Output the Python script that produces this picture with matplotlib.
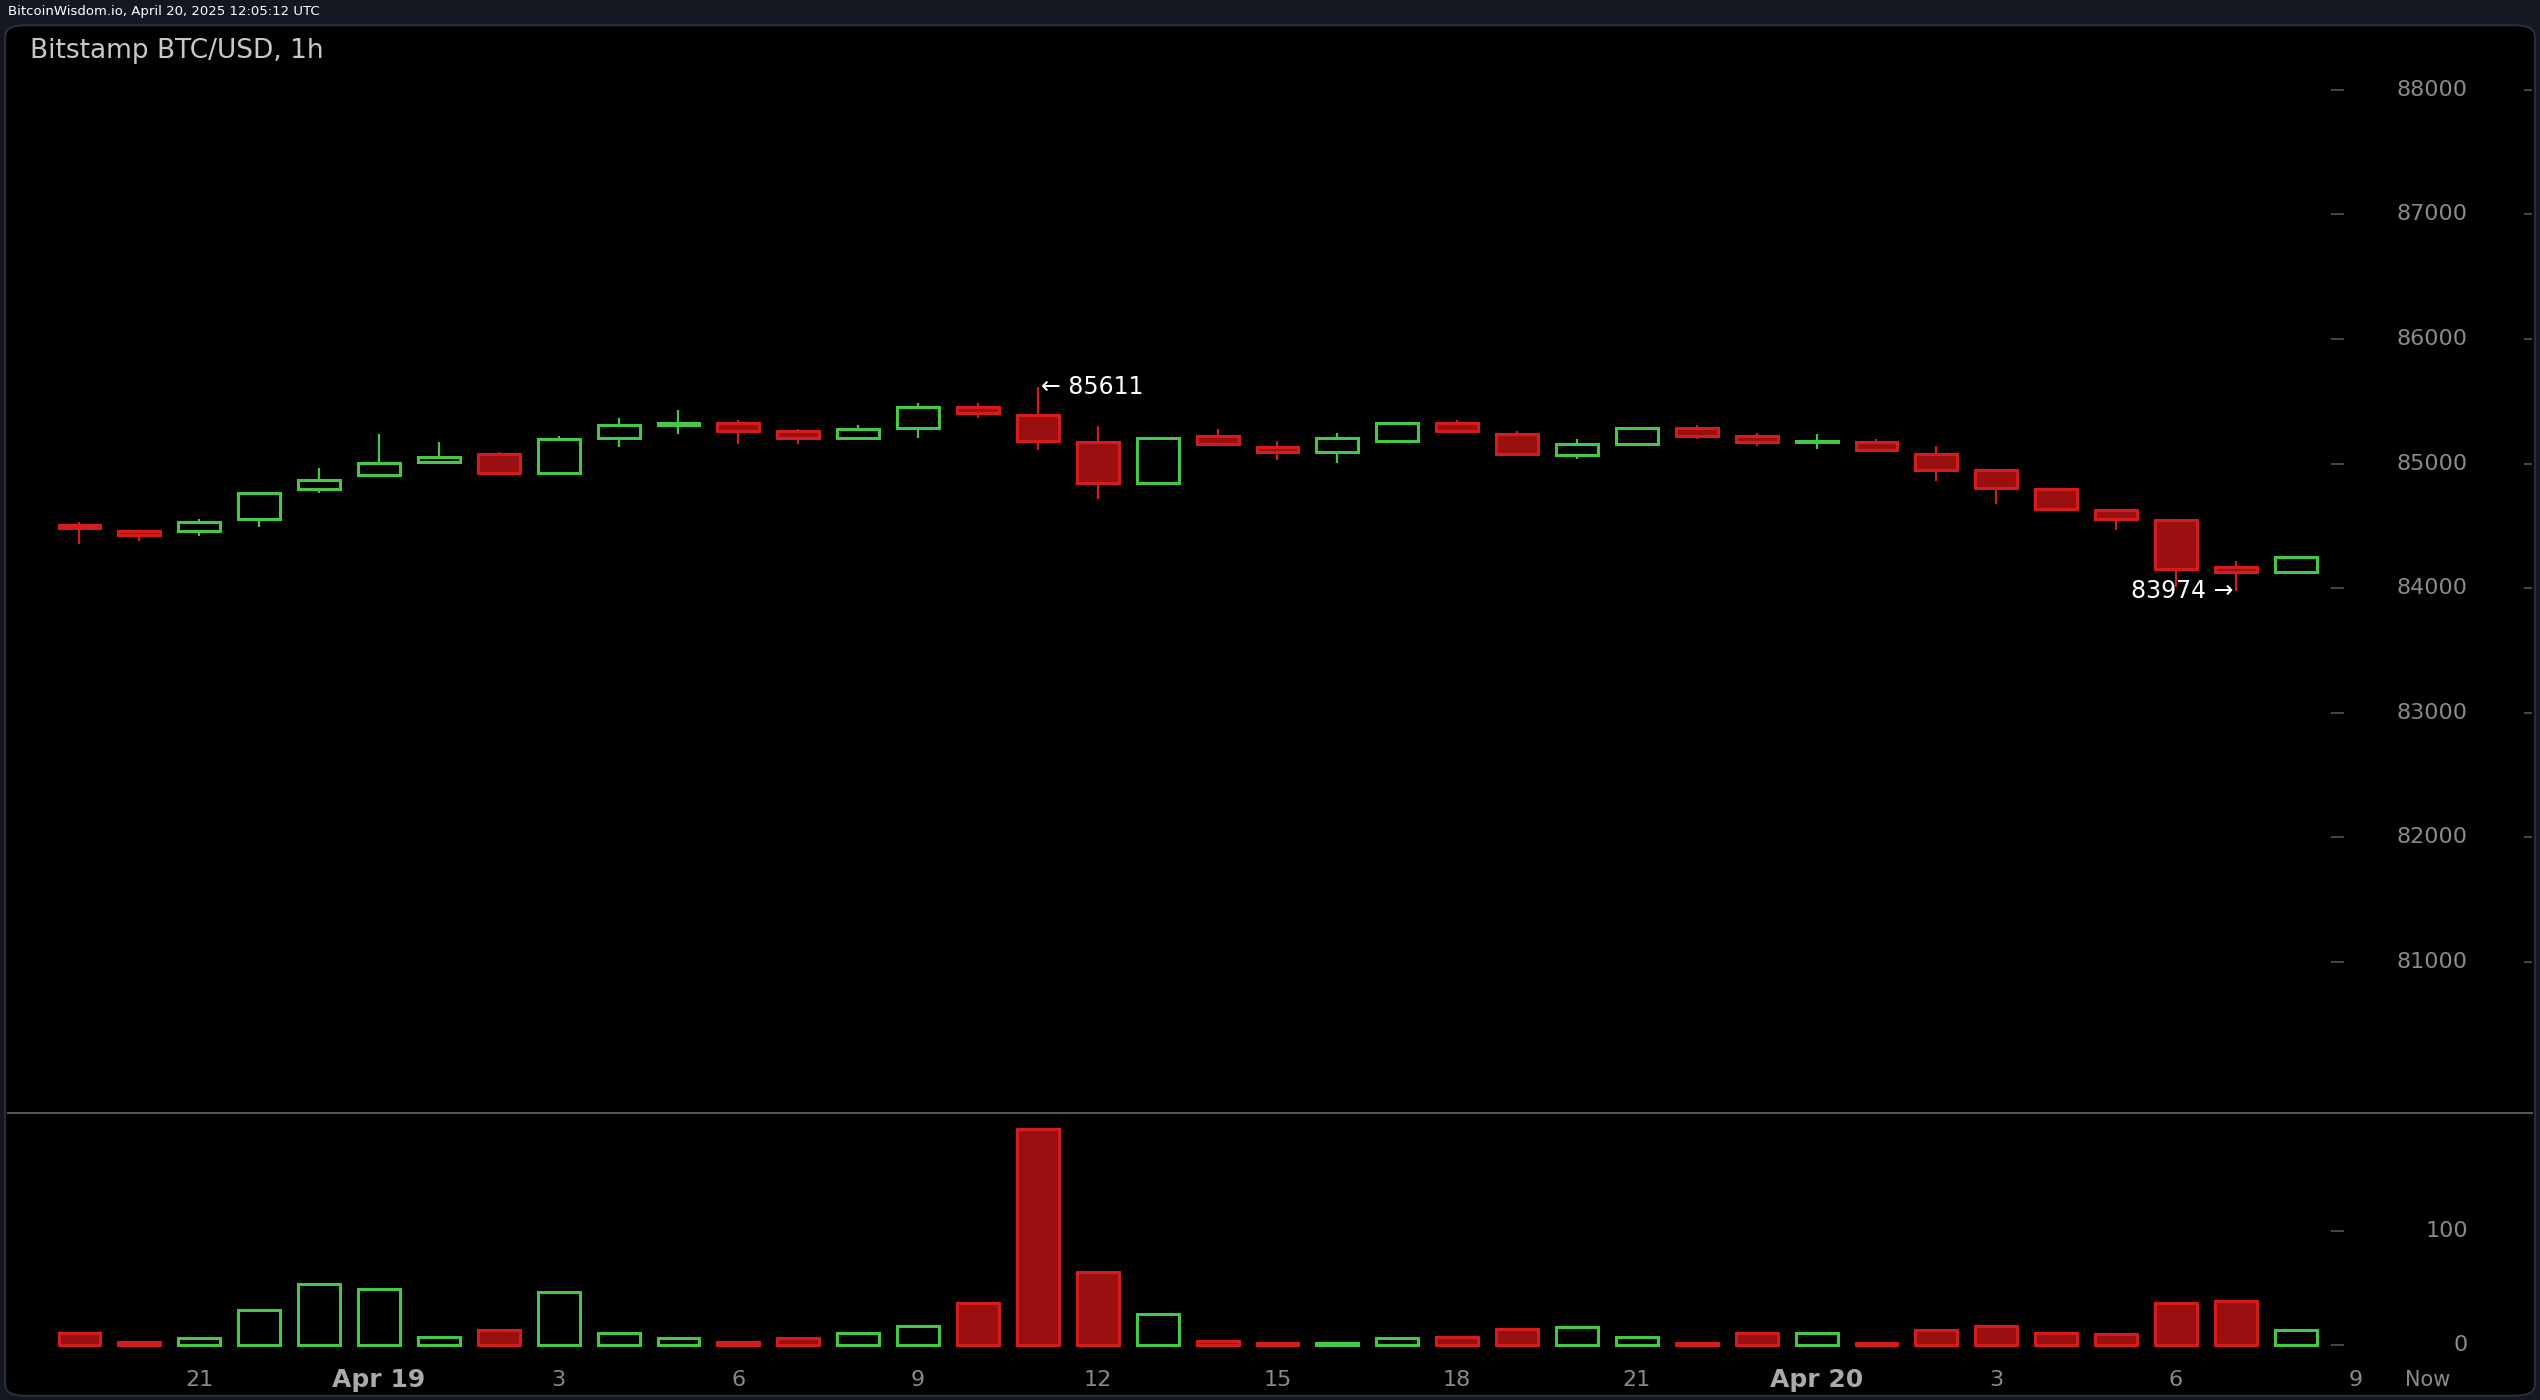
import matplotlib
matplotlib.use("Agg")
import matplotlib.pyplot as plt
from matplotlib.patches import FancyBboxPatch
import numpy as np

opens  = [84507,84455,84455,84559,84793,84910,85014,85079,84923,85209,85313,85326,85261,85209,85287,85456,85391,85170,84845,85222,85131,85092,85183,85326,85235,85066,85157,85287,85222,85170,85170,85079,84949,84793,84624,84546,84169,84130]
highs  = [84533,84468,84559,84767,84962,85235,85170,85092,85222,85365,85430,85352,85274,85313,85482,85482,85611,85300,85209,85274,85183,85248,85326,85352,85261,85196,85287,85313,85248,85235,85196,85144,84949,84793,84624,84546,84221,84260]
lows   = [84351,84377,84416,84494,84767,84897,85001,84910,84923,85131,85235,85157,85157,85209,85209,85365,85105,84715,84832,85144,85027,85001,85183,85248,85066,85040,85157,85196,85144,85118,85092,84858,84676,84637,84468,84013,83974,84130]
closes = [84481,84429,84533,84767,84871,85001,85053,84923,85196,85313,85326,85261,85209,85274,85456,85404,85183,84845,85209,85157,85092,85209,85326,85261,85079,85157,85287,85222,85170,85175,85105,84949,84806,84637,84559,84156,84130,84247]
volumes = [11,3,6,31,54,49,7,13,47,11,6,3,6,11,17,37,190,64,27,4,1.5,1.5,6,7,14,16,7,1.5,11,11,1.5,13,17,11,10,37,39,13]

xtick_pos = [2,5,8,11,14,17,20,23,26,29,32,35,38]
xtick_labels = ["21","Apr 19","3","6","9","12","15","18","21","Apr 20","3","6","9"]
price_ticks = [81000,82000,83000,84000,85000,86000,87000,88000]
vol_ticks = [0,100]

GREEN = "#44c944"
RED_E = "#d41c1c"
RED_F = "#9a1010"
LBL = "#8a8a8a"

fig = plt.figure(figsize=(25.4,14), dpi=100, facecolor="#131722")
L, R = 0.003, 0.997
ax = fig.add_axes([L, 0.2049, R-L, 0.9826-0.2049])
axv = fig.add_axes([L, 0.0278, R-L, 0.2049-0.0278])
bg = FancyBboxPatch((0.002, 0.003), 0.996, 0.979, boxstyle="round,pad=0,rounding_size=0.008",
                    transform=fig.transFigure, facecolor="black", edgecolor="#2a2e39", lw=1.5, zorder=-10)
fig.patches.append(bg)
for a in (ax, axv):
    a.set_facecolor("none")
    for s in a.spines.values():
        s.set_visible(False)
    a.set_xlim(-1.2, 40.95)
    a.tick_params(left=False, right=False, bottom=False, top=False, labelleft=False, labelbottom=False)
ax.set_ylim(79788, 88524)
axv.set_ylim(-14, 204)
ax.axhline(79788, color="#555", lw=1.5, clip_on=False)

x = np.arange(len(opens))
w = 0.7
for i in x:
    o, h, l, c = opens[i], highs[i], lows[i], closes[i]
    up = c >= o
    col = GREEN if up else RED_E
    top, bot = max(o, c), min(o, c)
    ax.vlines(i, top, h, color=col, lw=1.6)
    ax.vlines(i, l, bot, color=col, lw=1.6)
    ht = max(top-bot, 8)
    ax.bar(i, ht, bottom=bot, width=w, facecolor="none" if up else RED_F, edgecolor=col, lw=2.2)
    axv.bar(i, volumes[i], bottom=0, width=w, facecolor="none" if up else RED_F, edgecolor=col, lw=2.2)

for p in price_ticks:
    ax.text(0.9745, p, str(p), transform=ax.get_yaxis_transform(), ha="right", va="center", color=LBL, fontsize=16)
    ax.plot([0.9206, 0.925], [p, p], transform=ax.get_yaxis_transform(), color="#444", lw=1.5)
    ax.plot([0.997, 1.0], [p, p], transform=ax.get_yaxis_transform(), color="#444", lw=1.5)
for v in vol_ticks:
    axv.text(0.9745, v, str(v), transform=axv.get_yaxis_transform(), ha="right", va="center", color=LBL, fontsize=16)
    axv.plot([0.9206, 0.925], [v, v], transform=axv.get_yaxis_transform(), color="#444", lw=1.5)

for p, t in zip(xtick_pos, xtick_labels):
    bold = t.startswith("Apr")
    axv.text(p, -0.075, t, transform=axv.get_xaxis_transform(), ha="center", va="center",
             color="#aaaaaa" if bold else LBL, fontsize=18 if bold else 16, fontweight="bold" if bold else "normal")
axv.text(39.2, -0.075, "Now", transform=axv.get_xaxis_transform(), ha="center", va="center", color=LBL, fontsize=15)

hi_i = int(np.argmax(highs)); lo_i = int(np.argmin(lows))
ax.text(hi_i + 0.05, highs[hi_i], "\u2190 " + str(highs[hi_i]), ha="left", va="center", color="white", fontsize=17)
ax.text(lo_i - 0.05, lows[lo_i], str(lows[lo_i]) + " \u2192", ha="right", va="center", color="white", fontsize=17)

fig.text(0.012, 0.9635, "Bitstamp BTC/USD, 1h", color="#c8c8c8", fontsize=19, ha="left", va="center")
fig.text(0.003, 0.9915, "BitcoinWisdom.io, April 20, 2025 12:05:12 UTC", color="white", fontsize=9.5, ha="left", va="center")

fig.savefig("out.png", dpi=100, facecolor=fig.get_facecolor())
